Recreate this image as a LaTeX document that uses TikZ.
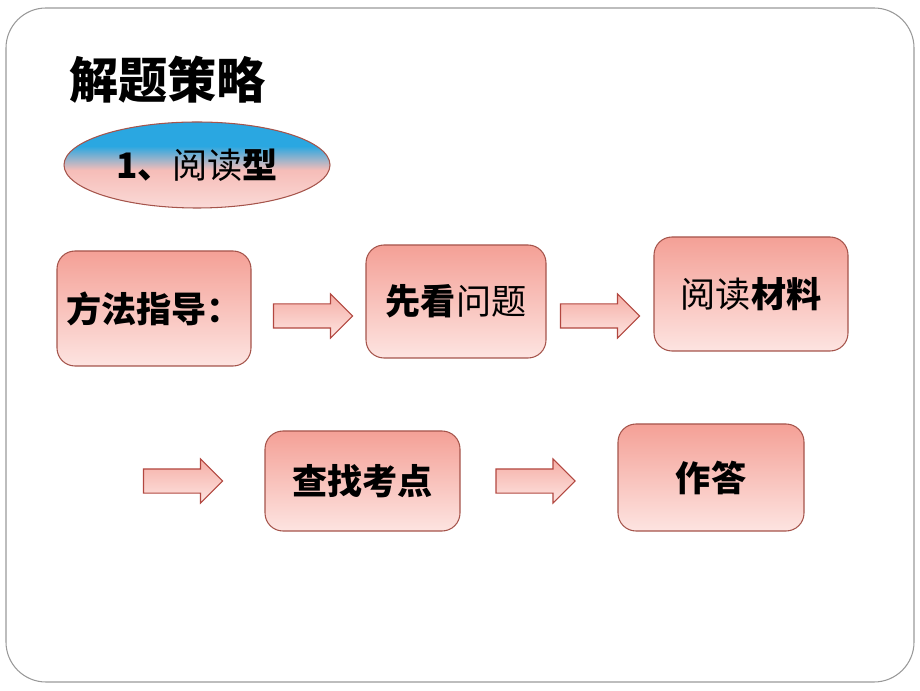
\documentclass[tikz,border=0pt]{standalone}
\usepackage{fontspec}
\setmainfont{Noto Sans CJK SC}
\usepackage{xcolor}
\usetikzlibrary{shapes.geometric}
\usetikzlibrary{shapes.arrows}

\definecolor{salmon}{HTML}{F4A096}
\definecolor{blush}{HTML}{FDE4E1}
\definecolor{rust}{HTML}{A5544B}
\definecolor{skyblue}{HTML}{2AA7E1}
\definecolor{rosy}{HTML}{F6BDB8}
\definecolor{palerosy}{HTML}{FADAD7}

\pgfdeclareverticalshading{ovalshade}{100bp}{color(0bp)=(palerosy); color(25bp)=(palerosy);
  color(47bp)=(rosy); color(61bp)=(skyblue); color(100bp)=(skyblue)}

\tikzset{
  stepbox/.style={rectangle, rounded corners=0.36cm, draw=rust, line width=0.6pt,
    top color=salmon, bottom color=blush, inner sep=0pt,
    font=\fontsize{20}{24}\selectfont},
  blockarrow/.style={single arrow, draw=rust!85!red, line width=0.6pt,
    top color=salmon!85, bottom color=blush,
    minimum height=1.58cm, inner xsep=0pt, inner ysep=0.23cm,
    single arrow head extend=0.2cm}
}

\begin{document}
\begin{tikzpicture}
\useasboundingbox (0,0) rectangle (18.4,13.8);

% outer frame
\draw[black!40, line width=0.6pt, rounded corners=0.8cm] (0.12,0.16) rectangle (18.28,13.64);

% title
\node[anchor=west, font=\fontsize{28}{32}\selectfont\bfseries] (title) at (1.26,12.2) {解题策略};

% type label
\node[ellipse, draw=rust, line width=0.6pt, shading=ovalshade,
  minimum width=5.32cm, minimum height=1.72cm, inner sep=0pt,
  font=\fontsize{20}{24}\selectfont] (kind) at (3.94,10.5) {\textbf{1、}阅读\textbf{型}};

% first row
\node[stepbox, minimum width=3.88cm, minimum height=2.3cm] (guide) at (3.08,7.63) {\textbf{方法指导：}};
\node[stepbox, minimum width=3.6cm, minimum height=2.26cm] (question) at (9.12,7.77) {\textbf{先看}问题};
\node[stepbox, minimum width=3.88cm, minimum height=2.28cm] (reading) at (15.02,7.92) {阅读\textbf{材料}};

% second row
\node[stepbox, minimum width=3.9cm, minimum height=2.0cm] (points) at (7.25,4.18) {\textbf{查找考点}};
\node[stepbox, minimum width=3.72cm, minimum height=2.14cm] (answer) at (14.22,4.25) {\textbf{作答}};

% block arrows
\node[blockarrow] (arrA) at (6.14,7.48) {};
\node[blockarrow] (arrB) at (11.88,7.48) {};
\node[blockarrow] (arrC) at (3.54,4.18) {};
\node[blockarrow] (arrD) at (10.59,4.18) {};
\end{tikzpicture}
\end{document}
